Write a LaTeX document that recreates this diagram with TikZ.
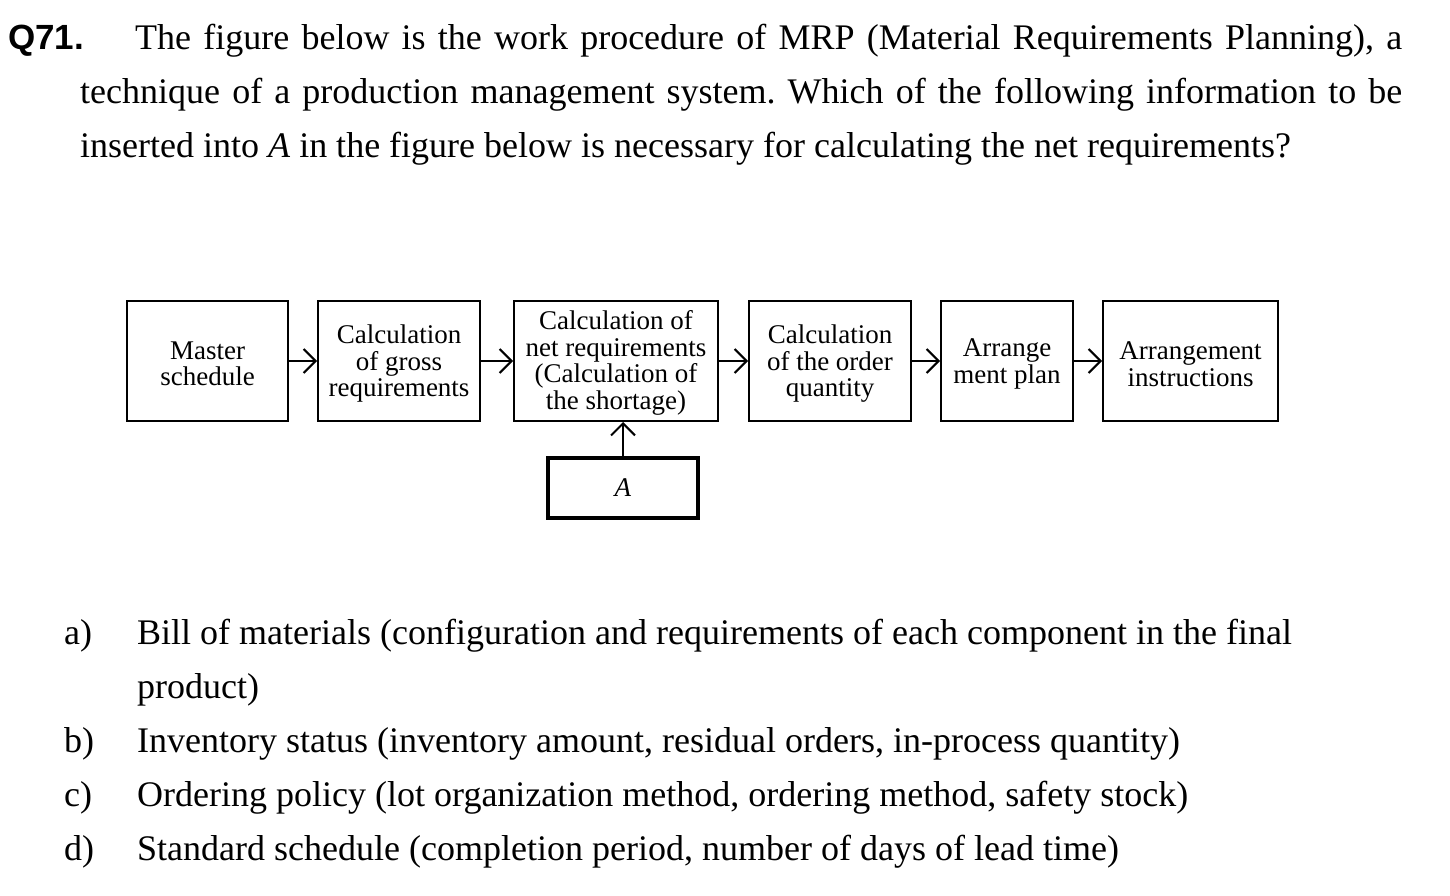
\documentclass[tikz,border=0pt]{standalone}
\usepackage{fontspec}
\setmainfont{Liberation Serif}
\newfontfamily\qfont{Liberation Sans}
\usetikzlibrary{arrows.meta}
\frenchspacing
\begin{document}
\begin{tikzpicture}[x=1pt,y=-1pt,
 box/.style={draw,line width=2pt,inner sep=0pt,minimum height=120pt},
 btext/.style={inner sep=0pt,align=center,font=\fontsize{27}{26.5}\selectfont},
 conn/.style={line width=2pt,-{Straight Barb[length=12pt,width=24pt,line width=2pt]}},
 body/.style={anchor=base west,inner sep=0pt,font=\fontsize{36}{54}\selectfont}]
\useasboundingbox (0,0) rectangle (1450,896);
% question text
\node[anchor=base west,inner sep=0pt,font=\qfont\bfseries\fontsize{35}{40}\selectfont] (q) at (8,50) {Q71.};
\node[body] (l1) at (135,50) {\makebox[1267pt][s]{The figure below is the work procedure of MRP (Material Requirements Planning), a}};
\node[body] (l2) at (80,104) {\makebox[1322pt][s]{technique of a production management system. Which of the following information to be}};
\node[body] (l3) at (80,158) {inserted into \textit{A} in the figure below is necessary for calculating the net requirements?};
% diagram boxes
\node[box,minimum width=161pt] (m) at (207.5,361) {};
\node[box,minimum width=162pt] (g) at (399,361) {};
\node[box,minimum width=204pt] (n) at (616,361) {};
\node[box,minimum width=162pt] (o) at (830,361) {};
\node[box,minimum width=132pt] (p) at (1007,361) {};
\node[box,minimum width=175pt] (i) at (1190.5,361) {};
\node[box,line width=3.5pt,minimum width=150pt,minimum height=60pt] (a) at (623,488) {};
% box texts
\node[btext] (mt) at ([yshift=-3pt]m.center) {Master\\schedule};
\node[btext] (gt) at ([yshift=-3pt]g.center) {Calculation\\of gross\\requirements};
\node[btext] (nt) at ([yshift=-2pt]n.center) {Calculation of\\net requirements\\(Calculation of\\the shortage)};
\node[btext] (ot) at ([yshift=-3pt]o.center) {Calculation\\of the order\\quantity};
\node[btext] (pt) at ([yshift=-3pt]p.center) {Arrange\\ment plan};
\node[btext] (it) at ([yshift=-3pt]i.center) {Arrangement\\instructions};
\node[btext] (at) at (a.center) {\textit{A}};
% connectors
\draw[conn] (m.east) -- (g.west);
\draw[conn] (g.east) -- (n.west);
\draw[conn] (n.east) -- (o.west);
\draw[conn] (o.east) -- (p.west);
\draw[conn] (p.east) -- (i.west);
\draw[conn] (a.north) -- (a.north |- n.south);
% options
\node[body] (ka) at (64,644) {a)};
\node[body] (ta) at (137,644) {Bill of materials (configuration and requirements of each component in the final};
\node[body] (ta2) at (137,698) {product)};
\node[body] (kb) at (64,752) {b)};
\node[body] (tb) at (137,752) {Inventory status (inventory amount, residual orders, in-process quantity)};
\node[body] (kc) at (64,806) {c)};
\node[body] (tc) at (137,806) {Ordering policy (lot organization method, ordering method, safety stock)};
\node[body] (kd) at (64,860) {d)};
\node[body] (td) at (137,860) {Standard schedule (completion period, number of days of lead time)};
\end{tikzpicture}
\end{document}
